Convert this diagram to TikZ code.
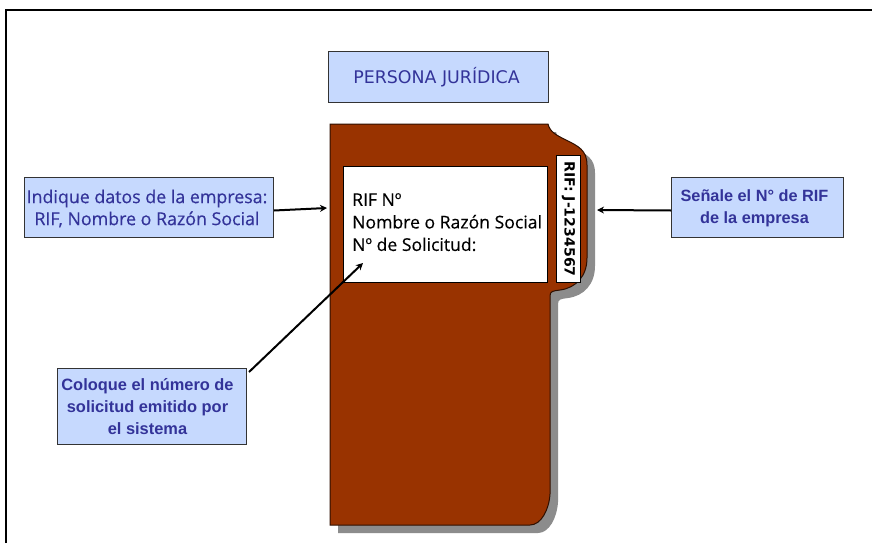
\documentclass[tikz,border=0pt]{standalone}
\usepackage{fontspec}
\setmainfont{Liberation Sans}
\newfontfamily\tah{Open Sans}[FakeBold=0.35]
\newfontfamily\dej{DejaVu Sans}
\usetikzlibrary{arrows.meta}
\definecolor{boxfill}{HTML}{C6D9FE}
\definecolor{boxtext}{HTML}{333399}
\definecolor{folderbrown}{HTML}{993300}
\definecolor{foldershadow}{HTML}{8C8C8C}
\tikzset{
  note/.style={draw=black!80,line width=1pt,fill=boxfill,text=boxtext,align=center,inner sep=0pt,anchor=north west},
  whitebox/.style={draw=black,line width=1pt,fill=white,inner sep=0pt,anchor=north west},
  link/.style={draw=black,line width=2pt,-{Stealth[length=7pt,width=7pt]}},
}
\begin{document}
\begin{tikzpicture}[x=1pt,y=-1pt]
\useasboundingbox (0,0) rectangle (872,543);
\fill[white] (0,0) rectangle (872,543);
\draw[black,line width=2pt] (6,543) -- (6,10) -- (872,10);
% folder shadow and body
\def\folderpath{(330,124) -- (548,124) .. controls (550,132) and (556,135) .. (566,140)
  .. controls (578,146) and (587,150) .. (587,165) -- (587,258)
  .. controls (587,276) and (576,288) .. (560,290) .. controls (553,291) and (550,291) .. (550,296)
  -- (550,494) .. controls (549,510) and (541,525) .. (530,525) -- (330,525) -- cycle}
\begin{scope}[shift={(8,8)}]
\fill[foldershadow] \folderpath;
\end{scope}
\filldraw[fill=folderbrown,draw=black!70!folderbrown,line width=1pt] \folderpath;
\coordinate (folderL) at (327,208);
\coordinate (folderR) at (597,210);
\node[whitebox,minimum width=204pt,minimum height=116pt] (card) at (343,166) {};
\node[anchor=north west,align=left,inner sep=0pt,font=\tah\fontsize{17.6}{22.5}\selectfont] (cardtext) at (352,193) {RIF Nº\\Nombre o Razón Social\\Nº de Solicitud:};
\node[whitebox,minimum width=24pt,minimum height=127pt] (tab) at (556,155) {};
\node[rotate=-90,font=\dej\bfseries\fontsize{14.1}{14}\selectfont] (tabtext) at (tab.center) {RIF: J-1234567};
\coordinate (cardpt) at (363,263);
\node[note,minimum width=220pt,minimum height=51pt] (title) at (328,51) {};
\node[font=\dej\fontsize{17.4}{18}\selectfont,text=boxtext] (titletext) at ([xshift=-2pt]title.center) {PERSONA JURÍDICA};
\node[note,minimum width=249pt,minimum height=60pt] (left) at (24,177) {};
\node[text=boxtext,align=center,font=\tah\fontsize{17.8}{22}\selectfont] (lefttext) at ([xshift=-2pt,yshift=-1pt]left.center) {Indique datos de la empresa:\\RIF, Nombre o Razón Social};
\node[note,minimum width=172pt,minimum height=60pt] (right) at (671,177) {};
\node[text=boxtext,align=center,font=\bfseries\fontsize{16.3}{22}\selectfont] (righttext) at ([xshift=-3pt,yshift=-1pt]right.center) {Señale el N° de RIF\\de la empresa};
\node[note,minimum width=189pt,minimum height=76pt] (bottom) at (57,368) {};
\node[text=boxtext,align=center,font=\bfseries\fontsize{16.4}{22}\selectfont] (bottomtext) at ([xshift=-4.5pt]bottom.center) {Coloque el número de\\solicitud emitido por\\el sistema};
\draw[link] ([yshift=-3pt]left.east) -- (folderL);
\draw[link] ([yshift=-3pt]right.west) -- (folderR);
\draw[link] ([shift={(2,4)}]bottom.north east) -- (cardpt);
\end{tikzpicture}
\end{document}
